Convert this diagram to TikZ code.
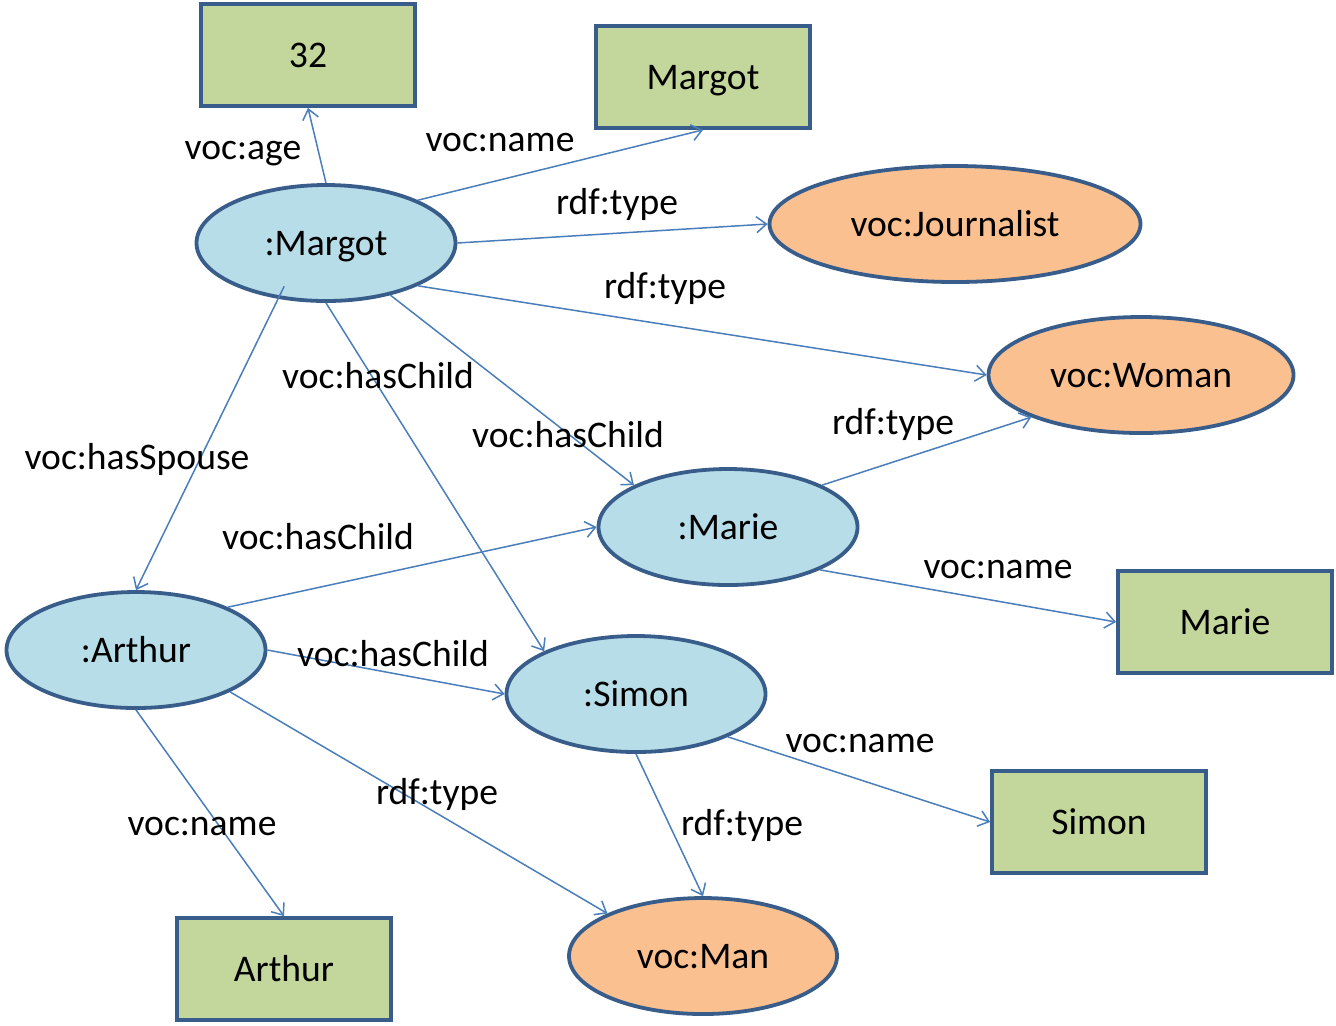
\documentclass[tikz,border=0pt]{standalone}
\usepackage{fontspec}
\setmainfont{Carlito}
\usepackage{tikz}
\usetikzlibrary{shapes,arrows.meta,calc}

\definecolor{resfill}{HTML}{B7DDE8}
\definecolor{litfill}{HTML}{C3D69B}
\definecolor{clsfill}{HTML}{FAC090}
\definecolor{nodeborder}{HTML}{385D8A}
\definecolor{edgeblue}{HTML}{4A7EBB}

\tikzset{
  res/.style={ellipse, draw=nodeborder, fill=resfill, line width=1.9pt, minimum width=129.5pt, minimum height=58pt, inner sep=0pt, text height=12pt, text depth=0pt},
  cls/.style={ellipse, draw=nodeborder, fill=clsfill, line width=1.9pt, minimum height=58pt, inner sep=0pt, text height=12pt, text depth=0pt},
  lit/.style={rectangle, draw=nodeborder, fill=litfill, line width=1.9pt, minimum width=107pt, minimum height=51pt, inner sep=0pt, text height=12pt, text depth=0pt},
  edge/.style={draw=edgeblue, line width=0.75pt, -{Straight Barb[length=5pt,width=8pt]}},
  lbl/.style={inner sep=0pt, anchor=base}
}

\begin{document}
\begin{tikzpicture}[x=0.5pt, y=-0.5pt, font=\fontsize{18.8pt}{22pt}\selectfont]
    \useasboundingbox (0,0) rectangle (1336,1025);
    % resources
    \node[res] (margot) at (326,243) {:Margot};
    \node[res] (marie) at (728,527) {:Marie};
    \node[res] (arthur) at (136,650) {:Arthur};
    \node[res] (simon) at (636,694) {:Simon};
    % classes
    \node[cls, minimum width=185.5pt] (journalist) at (955,224) {voc:Journalist};
    \node[cls, minimum width=152.5pt] (woman) at (1141,375) {voc:Woman};
    \node[cls, minimum width=134pt] (man) at (703,956) {voc:Man};
    % literals
    \node[lit] (age) at (308,55) {32};
    \node[lit] (margotname) at (703,77) {Margot};
    \node[lit] (mariename) at (1225,622) {Marie};
    \node[lit] (simonname) at (1099,822) {Simon};
    \node[lit] (arthurname) at (284,969) {Arthur};

    \coordinate (spousestart) at ($(margot.center)!0.79!(margot.226)$);
    \foreach \a/\b in {margot.north/age.south, margot.25/margotname.south, margot.east/journalist.west,
        margot.335/woman.west, spousestart/arthur.north, margot.south/simon.155, margot.321/marie.156,
        marie.24/woman.201, marie.335/mariename.west, arthur.25/marie.west, arthur.east/simon.west,
        arthur.336/man.156, arthur.south/arthurname.north, simon.335/simonname.west, simon.south/man.north}
        \draw[edge] (\a) -- (\b);

    \node[lbl] (l-age) at (243,159) {voc:age};
    \node[lbl] (l-mname) at (500,151) {voc:name};
    \node[lbl] (l-mtype1) at (617,214) {rdf:type};
    \node[lbl] (l-mtype2) at (665,298) {rdf:type};
    \node[lbl] (l-spouse) at (137,469) {voc:hasSpouse};
    \node[lbl] (l-mchild1) at (378,388) {voc:hasChild};
    \node[lbl] (l-mchild2) at (568,447) {voc:hasChild};
    \node[lbl] (l-ritype) at (893,434) {rdf:type};
    \node[lbl] (l-riname) at (998,578) {voc:name};
    \node[lbl] (l-achild1) at (318,549) {voc:hasChild};
    \node[lbl] (l-achild2) at (393,666) {voc:hasChild};
    \node[lbl] (l-atype) at (437,804) {rdf:type};
    \node[lbl] (l-aname) at (202,835) {voc:name};
    \node[lbl] (l-sname) at (860,752) {voc:name};
    \node[lbl] (l-stype) at (742,835) {rdf:type};
\end{tikzpicture}
\end{document}
